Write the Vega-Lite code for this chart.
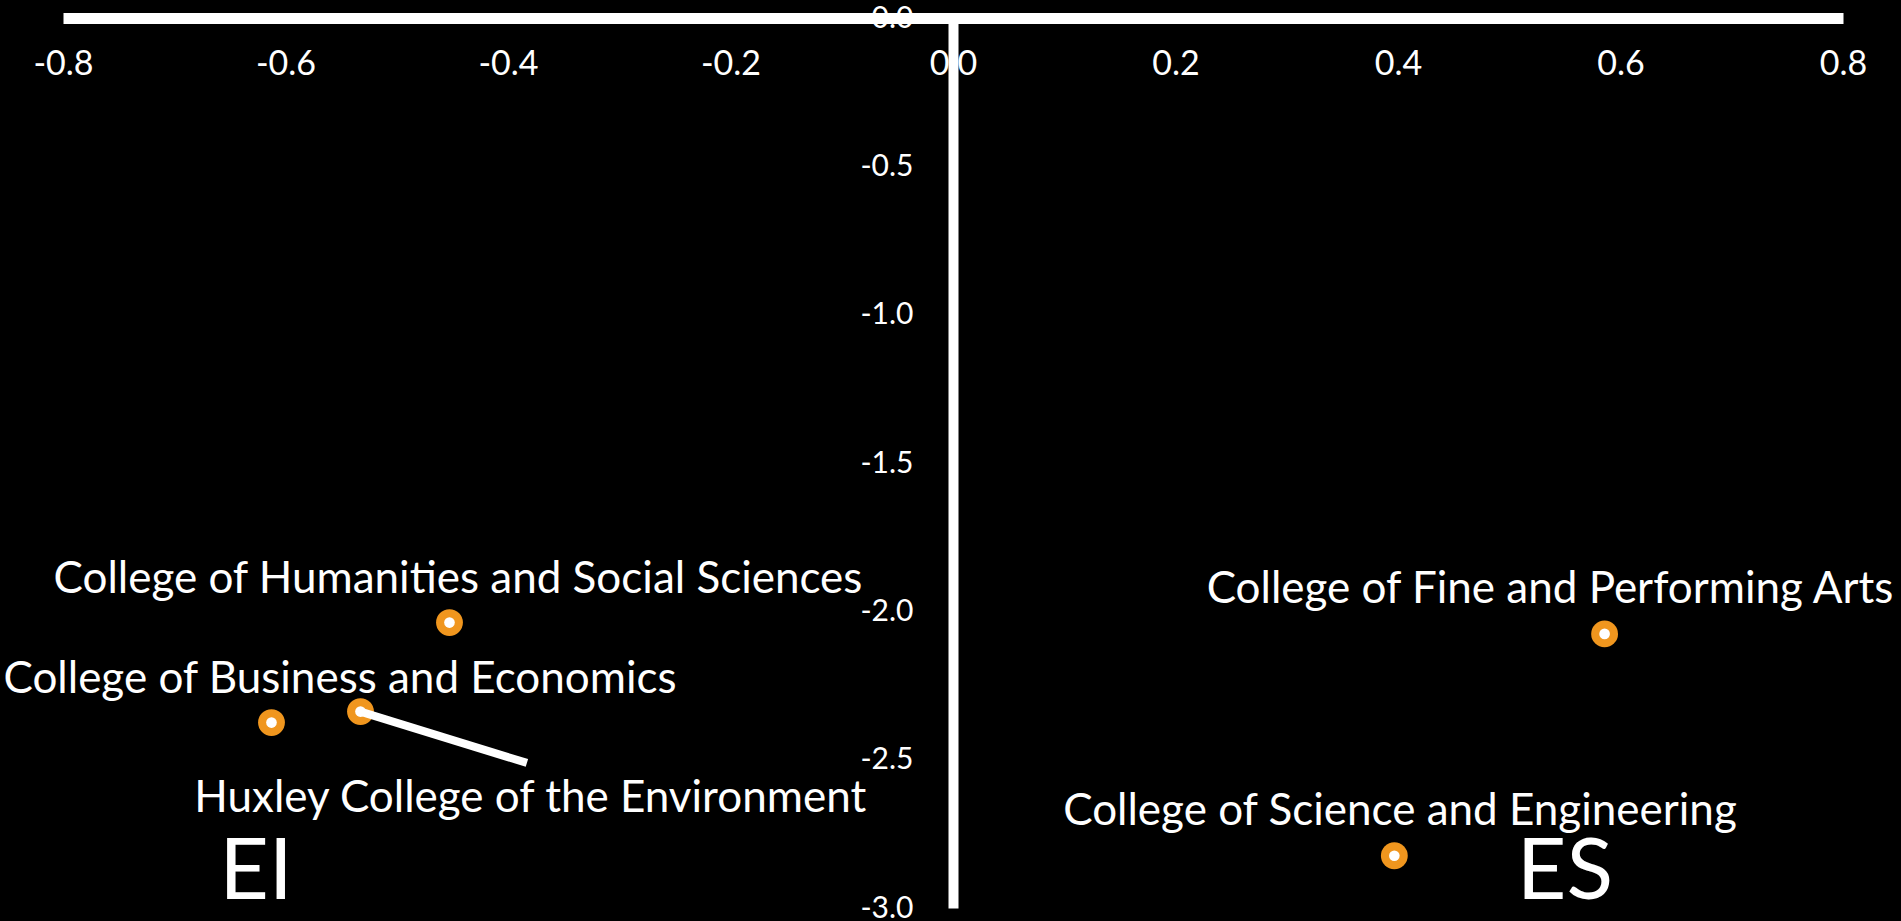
{
  "$schema": "https://vega.github.io/schema/vega-lite/v6.json",
  "width": 1780,
  "height": 890,
  "autosize": {"type": "none"},
  "padding": {"left": 63, "top": 18, "right": 58, "bottom": 13},
  "background": "black",
  "config": {
    "view": {"stroke": null},
    "axis": {"grid": false, "ticks": false, "tickSize": 0, "title": null, "labelColor": "white", "domainColor": "white", "labelFont": "Lato", "labelFlush": false, "labelOverlap": false}
  },
  "data": {
    "values": [
      {"college": "College of Humanities and Social Sciences", "x": -0.4526, "y": -2.038, "lx": -0.445, "ly": -1.938},
      {"college": "College of Business and Economics", "x": -0.6126, "y": -2.375, "lx": -0.551, "ly": -2.275},
      {"college": "Huxley College of the Environment", "x": -0.5326, "y": -2.338, "lx": -0.380, "ly": -2.676, "line_x": -0.383, "line_y": -2.511},
      {"college": "College of Fine and Performing Arts", "x": 0.5857, "y": -2.076, "lx": 0.5366, "ly": -1.972},
      {"college": "College of Science and Engineering", "x": 0.3967, "y": -2.824, "lx": 0.4018, "ly": -2.720}
    ]
  },
  "layer": [
    {
      "mark": {"type": "point", "filled": true, "size": 720, "color": "#F0961E", "opacity": 1},
      "encoding": {
        "x": {"field": "x", "type": "quantitative", "scale": {"domain": [-0.8, 0.8], "nice": false, "zero": false},
          "axis": {"orient": "top", "values": [-0.8, -0.6, -0.4, -0.2, 0, 0.2, 0.4, 0.6, 0.8], "labelExpr": "replace(format(datum.value, '.1f'), '−', '-')", "labelFontSize": 34, "labelPadding": -46, "labelBaseline": "middle", "domainWidth": 11}},
        "y": {"field": "y", "type": "quantitative", "scale": {"domain": [-3, 0], "nice": false},
          "axis": {"orient": "left", "offset": -890, "values": [0, -0.5, -1, -1.5, -2, -2.5, -3], "labelExpr": "replace(format(datum.value, '.1f'), '−', '-')", "labelFontSize": 30, "labelPadding": 40, "domainWidth": 10}}
      }
    },
    {
      "transform": [{"filter": "isValid(datum.line_x)"}],
      "mark": {"type": "rule", "color": "white", "strokeWidth": 8},
      "encoding": {
        "x": {"field": "x", "type": "quantitative"},
        "y": {"field": "y", "type": "quantitative"},
        "x2": {"field": "line_x"},
        "y2": {"field": "line_y"}
      }
    },
    {
      "mark": {"type": "point", "filled": true, "size": 113, "color": "white", "opacity": 1},
      "encoding": {
        "x": {"field": "x", "type": "quantitative"},
        "y": {"field": "y", "type": "quantitative"}
      }
    },
    {
      "mark": {"type": "text", "color": "white", "font": "Lato", "fontSize": 44, "align": "center", "baseline": "alphabetic"},
      "encoding": {
        "x": {"field": "lx", "type": "quantitative"},
        "y": {"field": "ly", "type": "quantitative"},
        "text": {"field": "college"}
      }
    },
    {
      "data": {"values": [{"t": "EI", "x": -0.6265, "y": -2.969}, {"t": "ES", "x": 0.55, "y": -2.969}]},
      "mark": {"type": "text", "color": "white", "font": "Lato", "fontSize": 86, "align": "center", "baseline": "alphabetic"},
      "encoding": {
        "x": {"field": "x", "type": "quantitative"},
        "y": {"field": "y", "type": "quantitative"},
        "text": {"field": "t"}
      }
    }
  ]
}
